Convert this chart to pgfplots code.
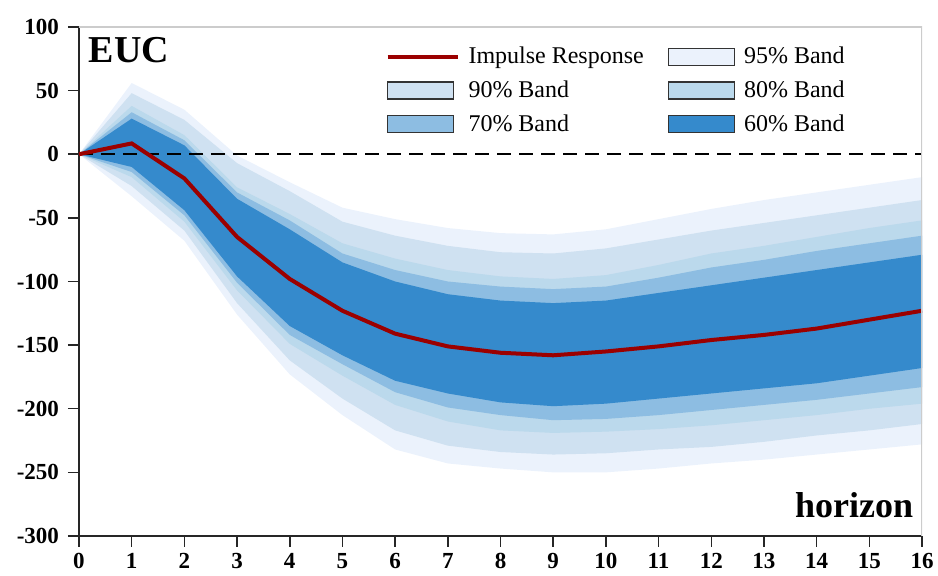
\documentclass[border=0pt]{standalone}
\usepackage{fontspec}
\setmainfont{Liberation Serif}
\usepackage{pgfplots}
\usepackage{pgfplotstable}
\pgfplotsset{compat=1.18}
\usepgfplotslibrary{fillbetween}

\definecolor{b95}{RGB}{235,242,252}
\definecolor{b90}{RGB}{207,225,241}
\definecolor{b80}{RGB}{187,217,236}
\definecolor{b70}{RGB}{141,189,226}
\definecolor{b60}{RGB}{53,138,204}
\definecolor{irred}{RGB}{155,0,0}

% impulse response and percentile bands
\pgfplotstableread{
x  l95  l90  l80  l70  l60  ir    u60  u70  u80  u90  u95
0  0    0    0    0    0    0     0    0    0    0    0
1  -33  -25  -18  -14  -10  8.5   28   33   38   48   56
2  -68  -60  -53  -48  -44  -19   7    11   15   27   35
3  -126 -117 -107 -101 -96  -65   -35  -30  -26  -7   -1
4  -173 -162 -149 -142 -135 -98   -59  -52  -47  -29  -22
5  -205 -192 -174 -165 -158 -123  -85  -78  -70  -53  -42
6  -232 -217 -197 -187 -178 -141  -100 -91  -82  -64  -51
7  -243 -229 -210 -199 -188 -151  -110 -100 -91  -72  -58
8  -247 -234 -217 -205 -195 -156  -115 -104 -96  -77  -62
9  -250 -236 -219 -209 -198 -158  -117 -106 -98  -78  -63
10 -250 -235 -218 -208 -196 -155  -115 -104 -95  -74  -59
11 -247 -232 -216 -205 -192 -151  -109 -97  -87  -67  -51
12 -243 -230 -213 -201 -188 -146  -103 -89  -78  -60  -43
13 -240 -226 -209 -197 -184 -142  -97  -83  -72  -54  -36
14 -236 -221 -205 -193 -180 -137  -91  -76  -65  -48  -30
15 -232 -217 -200 -188 -174 -130  -85  -70  -58  -42  -24
16 -228 -212 -196 -183 -168 -123  -79  -64  -52  -36  -18
}\irf

\pgfplotsset{
  bandlegend/.style={legend image code/.code={
    \draw[##1, draw=black!80, line width=0.6pt] (0pt,-4.25pt) rectangle (33pt,4.25pt);}},
  irlegend/.style={legend image code/.code={
    \draw[##1] (0pt,0pt) -- (35pt,0pt);}},
}

\begin{document}
\begin{tikzpicture}
\begin{axis}[
    scale only axis,
    width=421.5pt, height=254.5pt,
    xmin=0, xmax=16, ymin=-300, ymax=100,
    xtick={0,...,16},
    ytick={-300,-250,...,100},
    axis x line*=bottom, axis y line*=left,
    axis line style={black!85, line width=0.75pt},
    tick align=outside,
    major tick length=5.5pt,
    tick style={black!85, line width=0.75pt},
    /pgf/number format/assume math mode=true,
    tick label style={font=\bfseries\fontsize{11.5}{13}\selectfont},
    yticklabel style={xshift=-1pt},
    xticklabel style={yshift=0.5pt},
    legend columns=2,
    legend cell align=left,
    legend style={draw=none, fill=none, at={(0.356,0.977)}, anchor=north west,
        font=\fontsize{12}{14}\selectfont, row sep=3pt,
        /tikz/every odd column/.append style={column sep=2.5pt},
        /tikz/every even column/.append style={column sep=10pt}},
]
% bands, outermost first
\addplot[name path=u95, draw=none, forget plot] table[x=x,y=u95]{\irf};
\addplot[name path=l95, draw=none, forget plot] table[x=x,y=l95]{\irf};
\addplot[b95, forget plot] fill between[of=u95 and l95];
\addplot[name path=u90, draw=none, forget plot] table[x=x,y=u90]{\irf};
\addplot[name path=l90, draw=none, forget plot] table[x=x,y=l90]{\irf};
\addplot[b90, forget plot] fill between[of=u90 and l90];
\addplot[name path=u80, draw=none, forget plot] table[x=x,y=u80]{\irf};
\addplot[name path=l80, draw=none, forget plot] table[x=x,y=l80]{\irf};
\addplot[b80, forget plot] fill between[of=u80 and l80];
\addplot[name path=u70, draw=none, forget plot] table[x=x,y=u70]{\irf};
\addplot[name path=l70, draw=none, forget plot] table[x=x,y=l70]{\irf};
\addplot[b70, forget plot] fill between[of=u70 and l70];
\addplot[name path=u60, draw=none, forget plot] table[x=x,y=u60]{\irf};
\addplot[name path=l60, draw=none, forget plot] table[x=x,y=l60]{\irf};
\addplot[b60, forget plot] fill between[of=u60 and l60];

% zero line
\addplot[black, line width=0.8pt, dash pattern=on 7pt off 4pt, forget plot] coordinates {(0,0) (16,0)};

% impulse response
\addplot[irred, line width=2pt, forget plot] table[x=x,y=ir]{\irf};

% legend
\addlegendimage{irlegend, irred, line width=2pt}
\addlegendentry{Impulse Response}
\addlegendimage{bandlegend, fill=b95}
\addlegendentry{95\% Band}
\addlegendimage{bandlegend, fill=b90}
\addlegendentry{90\% Band}
\addlegendimage{bandlegend, fill=b80}
\addlegendentry{80\% Band}
\addlegendimage{bandlegend, fill=b70}
\addlegendentry{70\% Band}
\addlegendimage{bandlegend, fill=b60}
\addlegendentry{60\% Band}

% light frame on top and right
\draw[black!20, line width=0.75pt] (rel axis cs:0,1) -- (rel axis cs:1,1) -- (rel axis cs:1,0);

\node[anchor=north west, inner sep=0pt, font=\bfseries\fontsize{19}{19}\selectfont]
    at (rel axis cs:0.011,0.98) {EUC};
\node[anchor=base east, inner sep=0pt, font=\bfseries\fontsize{18}{18}\selectfont]
    at (rel axis cs:0.990,0.037) {horizon};
\end{axis}
\pgfresetboundingbox
\path (-39.5pt,-20pt) rectangle (429.5pt,268pt);
\end{tikzpicture}
\end{document}
